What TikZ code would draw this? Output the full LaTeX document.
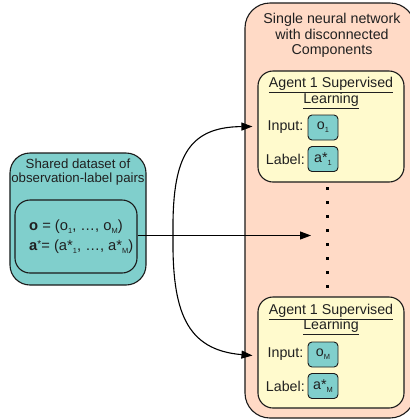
\documentclass[tikz,border=0pt]{standalone}
\usepackage{fontspec}
\setmainfont{Liberation Sans}
\usetikzlibrary{arrows.meta}
\definecolor{tealfill}{HTML}{80CFCC}
\definecolor{pinkfill}{HTML}{FFDAC6}
\definecolor{yellowfill}{HTML}{FFFACD}
\definecolor{edgecol}{HTML}{1A1A1A}
\definecolor{txtcol}{HTML}{202020}
\newcommand\lowsub[1]{\raisebox{-3bp}{\fontsize{7.5}{7.5}\selectfont #1}}
\tikzset{
  boxbase/.style={draw=edgecol, line width=1.1bp, inner sep=0pt},
  tealouter/.style={boxbase, fill=tealfill, rounded corners=20bp},
  tealinner/.style={boxbase, fill=tealfill, rounded corners=15bp},
  pinkbox/.style={boxbase, fill=pinkfill, rounded corners=25bp},
  yellowbox/.style={boxbase, fill=yellowfill, rounded corners=15bp},
  smallbox/.style={boxbase, line width=0.9bp, fill=tealfill, rounded corners=4bp,
    minimum width=30bp, minimum height=25bp, text=txtcol,
    font=\fontsize{14.3}{15}\selectfont},
  lbltext/.style={inner sep=0pt, text=txtcol, align=center, font=\fontsize{14.3}{15.5}\selectfont},
  lefttext/.style={inner sep=0pt, text=txtcol, align=center, font=\fontsize{13.3}{14.5}\selectfont},
  conn/.style={draw=black, line width=1.1bp},
  arr/.style={conn, -{Triangle[length=11bp,width=8bp]}},
  dotmark/.style={fill=black, inner sep=0pt, minimum size=3bp, draw=none}
}
\begin{document}
\begin{tikzpicture}[x=1bp,y=-1bp]
\useasboundingbox (0,0) rectangle (410,419);
\begin{scope}
\clip (0,0) rectangle (410,419);
% right container
\node[pinkbox, minimum width=170bp, minimum height=415bp] (net) at (330,210.5) {};
\end{scope}
\node[lbltext] (nettitle) at (332,35.5) {Single neural network\\with disconnected\\Components};

% yellow agent boxes
\node[yellowbox, minimum width=146bp, minimum height=111bp] (ag1) at (331,126.5) {};
\node[lbltext, font=\fontsize{14.3}{15.5}\selectfont] (ag1title) at (331,93) {\underline{Agent 1 Supervised}\\\underline{Learning}};
\node[smallbox] (o1) at (323,127.5) {o\lowsub{1}};
\node[smallbox] (a1) at (323,159) {a*\lowsub{1}};
\node[lbltext, anchor=east] (in1) at (303.5,127.5) {Input:};
\node[lbltext, anchor=east] (lb1) at (305,159) {Label:};

\node[yellowbox, minimum width=146bp, minimum height=111bp] (ag2) at (331,352.5) {};
\node[lbltext, font=\fontsize{14.3}{15.5}\selectfont] (ag2title) at (331,319.5) {\underline{Agent 1 Supervised}\\\underline{Learning}};
\node[smallbox] (oM) at (323,354.5) {o\lowsub{M}};
\node[smallbox] (aM) at (323,386) {a*\lowsub{M}};
\node[lbltext, anchor=east] (in2) at (303.5,354.5) {Input:};
\node[lbltext, anchor=east] (lb2) at (305,386) {Label:};

% dots column
\foreach \i in {0,...,7} {
  \node[dotmark] (dot\i) at (327,188+14*\i) {};
}

% left dataset box
\node[tealouter, minimum width=136bp, minimum height=132bp] (data) at (78,219) {};
\node[lefttext] (datatitle) at (78,172) {Shared dataset of\\observation-label pairs};
\node[tealinner, minimum width=122bp, minimum height=73bp] (pairs) at (76,236.5) {};
\node[lefttext, align=left, anchor=west, font=\fontsize{14.8}{20}\selectfont] (formula) at (29,237)
  {\textbf{o} = (o\lowsub{1}, …, o\lowsub{M})\\
   \textbf{a}{\fontsize{10}{10}\selectfont\raisebox{3.5bp}{*}}= (a*\lowsub{1}, …, a*\lowsub{M})};

% connectors
\coordinate (split) at (173,235.5);
\coordinate (dotsin) at (311,235.5);
\draw[arr] (pairs.east |- split) -- (dotsin);
\draw[arr] (split) .. controls (172,160) and (186,127) .. ([xshift=-5bp]ag1.west);
\draw[arr] (split) .. controls (172,311) and (186,350) .. ([xshift=-5bp,yshift=-3bp]ag2.west);
\end{tikzpicture}
\end{document}
